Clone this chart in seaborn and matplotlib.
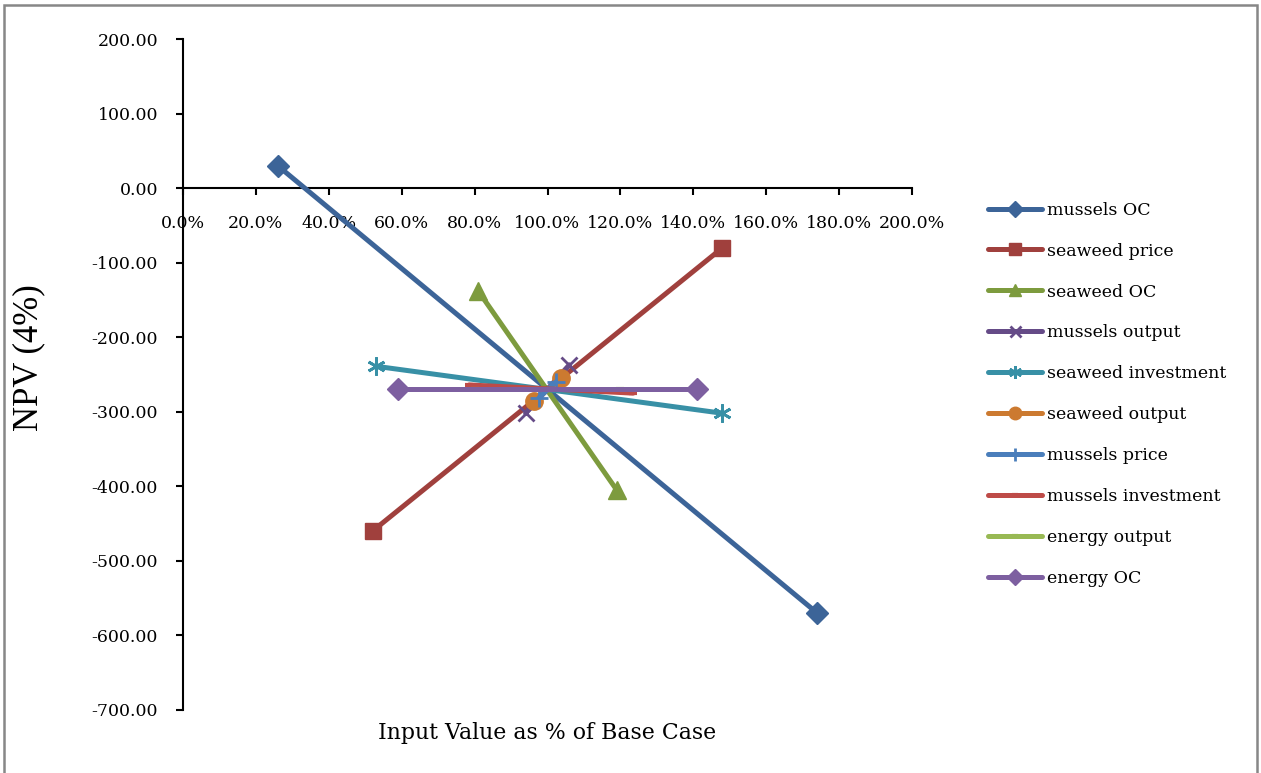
import matplotlib
matplotlib.use("Agg")
import matplotlib.pyplot as plt
from matplotlib.patches import Rectangle
from matplotlib.ticker import FuncFormatter
import seaborn as sns
import pandas as pd

# Sensitivity of NPV (4%) to each input, expressed as % of the base case
series_names = [
    "mussels OC", "seaweed price", "seaweed OC", "mussels output",
    "seaweed investment", "seaweed output", "mussels price",
    "mussels investment", "energy output", "energy OC",
]
mussels_oc_x = [0.26, 1.74]
mussels_oc_y = [30, -570]
seaweed_price_x = [0.52, 1.48]
seaweed_price_y = [-460, -80]
seaweed_oc_x = [0.81, 1.19]
seaweed_oc_y = [-138, -405]
mussels_output_x = [0.94, 1.06]
mussels_output_y = [-302, -237]
seaweed_investment_x = [0.53, 1.48]
seaweed_investment_y = [-239, -302]
seaweed_output_x = [0.963, 1.037]
seaweed_output_y = [-286, -255]
mussels_price_x = [0.977, 1.023]
mussels_price_y = [-281, -260]
mussels_investment_x = [0.785, 1.235]
mussels_investment_y = [-264, -275]
energy_output_x = [0.80, 1.20]
energy_output_y = [-270, -270]
energy_oc_x = [0.59, 1.41]
energy_oc_y = [-270, -270]

xs = [mussels_oc_x, seaweed_price_x, seaweed_oc_x, mussels_output_x,
      seaweed_investment_x, seaweed_output_x, mussels_price_x,
      mussels_investment_x, energy_output_x, energy_oc_x]
ys = [mussels_oc_y, seaweed_price_y, seaweed_oc_y, mussels_output_y,
      seaweed_investment_y, seaweed_output_y, mussels_price_y,
      mussels_investment_y, energy_output_y, energy_oc_y]

x_ticks = [0.0, 0.2, 0.4, 0.6, 0.8, 1.0, 1.2, 1.4, 1.6, 1.8, 2.0]
y_ticks = [200, 100, 0, -100, -200, -300, -400, -500, -600, -700]

frames = []
for name, x, y in zip(series_names, xs, ys):
    frames.append(pd.DataFrame({"series": name, "pct": x, "npv": y}))
df = pd.concat(frames, ignore_index=True)

styles = {
    "mussels OC":         dict(color="#3C6498", marker="D", ms=11),
    "seaweed price":      dict(color="#A0403D", marker="s", ms=11.5),
    "seaweed OC":         dict(color="#7D9B3E", marker="^", ms=12.5),
    "mussels output":     dict(color="#654B87", marker="x", ms=11, mew=2),
    "seaweed investment": dict(color="#3890A6", marker=(6, 2, 0), ms=13, mew=2),
    "seaweed output":     dict(color="#CC7A30", marker="o", ms=12.5),
    "mussels price":      dict(color="#4A7EBB", marker="+", ms=13, mew=2),
    "mussels investment": dict(color="#BE4B48", marker="_", ms=6, mew=3),
    "energy output":      dict(color="#98B954", marker="_", ms=6, mew=3),
    "energy OC":          dict(color="#7D5FA0", marker="D", ms=11),
}

sns.set_style("white")
plt.rcParams["font.family"] = ["DejaVu Serif", "Liberation Serif"]
plt.rcParams["text.color"] = "black"
plt.rcParams["axes.labelcolor"] = "black"
plt.rcParams["xtick.color"] = "black"
plt.rcParams["ytick.color"] = "black"

fig = plt.figure(figsize=(12.61, 7.73), dpi=100)
ax = fig.add_axes([183 / 1261, 1 - 710 / 773, 729 / 1261, 671 / 773])

for name in series_names:
    st = styles[name]
    sub = df[df["series"] == name]
    sns.lineplot(
        data=sub, x="pct", y="npv", ax=ax, label=name,
        color=st["color"], linewidth=3.6, marker=st["marker"],
        markersize=st["ms"], markeredgewidth=st.get("mew", 1),
        markeredgecolor=st["color"], markerfacecolor=st["color"],
        sort=False, estimator=None,
    )

ax.set_xlim(0, 2.0)
ax.set_ylim(-700, 200)
ax.set_xticks(x_ticks)
ax.set_yticks(y_ticks)
ax.xaxis.set_major_formatter(FuncFormatter(lambda v, p: f"{v * 100:.1f}%"))
ax.yaxis.set_major_formatter(FuncFormatter(lambda v, p: f"{v:.2f}"))

for side in ("top", "right"):
    ax.spines[side].set_visible(False)
ax.spines["bottom"].set_position(("data", 0))
for side in ("left", "bottom"):
    ax.spines[side].set_color("black")
    ax.spines[side].set_linewidth(1.5)
    ax.spines[side].set_zorder(0)

ax.tick_params(axis="both", which="major", direction="out", length=5,
               width=1.5, color="black", labelcolor="black", labelsize=12.5)
ax.tick_params(axis="x", pad=14)
ax.tick_params(axis="y", pad=13)
ax.tick_params(left=True, bottom=True)

ax.set_xlabel("Input Value as % of Base Case", fontsize=15.8, color="black")
ax.xaxis.set_label_coords(0.5, -0.018)
ax.set_ylabel("NPV (4%)", fontsize=25, fontfamily="Liberation Serif",
              color="black")
ax.yaxis.set_label_coords(-0.189, 0.525)
ax.grid(False)

leg = ax.legend(loc="upper left", bbox_to_anchor=(1.095, 0.768), frameon=False,
                fontsize=12.5, handlelength=3.1, handletextpad=0.3,
                labelspacing=1.38, borderaxespad=0, markerscale=0.72)
for t in leg.get_texts():
    t.set_color("black")

fig.patches.append(Rectangle((4 / 1261, -0.05), 1253 / 1261, 1.05 - 5 / 773,
                             transform=fig.transFigure, fill=False,
                             edgecolor="#878787", linewidth=1.8))

fig.savefig("out.png", dpi=100)
